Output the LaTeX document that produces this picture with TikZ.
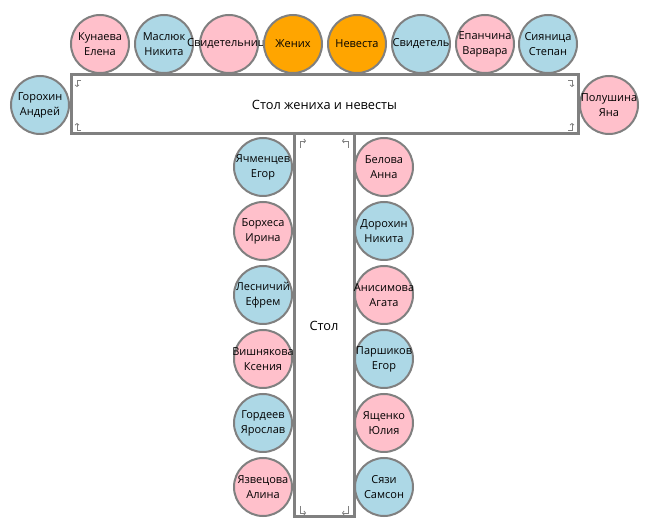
\documentclass[tikz,border=0pt]{standalone}
\usepackage{fontspec}
\setmainfont{Open Sans}
\usetikzlibrary{arrows.meta}

\definecolor{girlpink}{RGB}{255,192,203}
\definecolor{boyblue}{RGB}{173,216,230}
\definecolor{pairorange}{RGB}{255,165,0}
\definecolor{rimgray}{RGB}{128,128,128}

\tikzset{
  guestname/.style={inner sep=0pt, align=center, font=\fontsize{11}{15}\selectfont},
  guest/.style={circle, draw=rimgray, line width=2pt, minimum size=58pt, inner sep=0pt},
  girl/.style={guest, fill=girlpink},
  boy/.style={guest, fill=boyblue},
  pair/.style={guest, fill=pairorange},
  tablebox/.style={draw=rimgray, line width=3pt, fill=white, inner sep=0pt,
    font=\fontsize{12.8}{15}\selectfont},
  cornerarrow/.style={draw=rimgray, line width=0.8pt,
    -{Straight Barb[length=1.6pt,width=4pt]}}
}

\begin{document}
\begin{tikzpicture}[x=1pt,y=-1pt]
  \useasboundingbox (0,0) rectangle (649,521);

  % tables
  \node[tablebox, minimum width=60pt, minimum height=383pt] (longtable) at (324,325.5) {Стол};
  \node[tablebox, minimum width=507pt, minimum height=59pt] (headtable) at (324.5,104.5) {Стол жениха и невесты};

  \draw[cornerarrow] (81,80) -- (77,80) -- (77,87);
  \draw[cornerarrow] (81,130) -- (77,130) -- (77,123);
  \draw[cornerarrow] (568,80) -- (572,80) -- (572,87);
  \draw[cornerarrow] (568,130) -- (572,130) -- (572,123);

  \draw[cornerarrow] (300,148) -- (300,141) -- (306,141);
  \draw[cornerarrow] (348,148) -- (348,141) -- (342,141);
  \draw[cornerarrow] (300,506) -- (300,513) -- (306,513);
  \draw[cornerarrow] (348,506) -- (348,513) -- (342,513);

  % head table guests
  \node[girl, label={[guestname]center:Кунаева\\Елена}] (kunaeva) at (100,44) {};
  \node[boy, label={[guestname]center:Маслюк\\Никита}] (masljuk) at (164,44) {};
  \node[girl, label={[guestname]center:Свидетельница}] (witnessf) at (229,44) {};
  \node[pair, label={[guestname]center:Жених}] (groom) at (293,44) {};
  \node[pair, label={[guestname]center:Невеста}] (bride) at (357,44) {};
  \node[boy, label={[guestname]center:Свидетель}] (witnessm) at (421,44) {};
  \node[girl, label={[guestname]center:Епанчина\\Варвара}] (epanchina) at (485,44) {};
  \node[boy, label={[guestname]center:Сияница\\Степан}] (sijanica) at (548,44) {};

  \node[boy, label={[guestname]center:Горохин\\Андрей}] (gorohin) at (40,105) {};
  \node[girl, label={[guestname]center:Полушина\\Яна}] (polushina) at (609,105) {};

  % long table, left side
  \node[boy, label={[guestname]center:Ячменцев\\Егор}] (jachmencev) at (263,167) {};
  \node[girl, label={[guestname]center:Борхеса\\Ирина}] (borhesa) at (263,231) {};
  \node[boy, label={[guestname]center:Лесничий\\Ефрем}] (lesnichij) at (263,295) {};
  \node[girl, label={[guestname]center:Вишнякова\\Ксения}] (vishnjakova) at (263,359) {};
  \node[boy, label={[guestname]center:Гордеев\\Ярослав}] (gordeev) at (263,423) {};
  \node[girl, label={[guestname]center:Язвецова\\Алина}] (jazvecova) at (263,487) {};

  % long table, right side
  \node[girl, label={[guestname]center:Белова\\Анна}] (belova) at (384,167) {};
  \node[boy, label={[guestname]center:Дорохин\\Никита}] (dorohin) at (384,231) {};
  \node[girl, label={[guestname]center:Анисимова\\Агата}] (anisimova) at (384,295) {};
  \node[boy, label={[guestname]center:Паршиков\\Егор}] (parshikov) at (384,359) {};
  \node[girl, label={[guestname]center:Ященко\\Юлия}] (jashenko) at (384,423) {};
  \node[boy, label={[guestname]center:Сязи\\Самсон}] (sjazi) at (384,487) {};
\end{tikzpicture}
\end{document}
